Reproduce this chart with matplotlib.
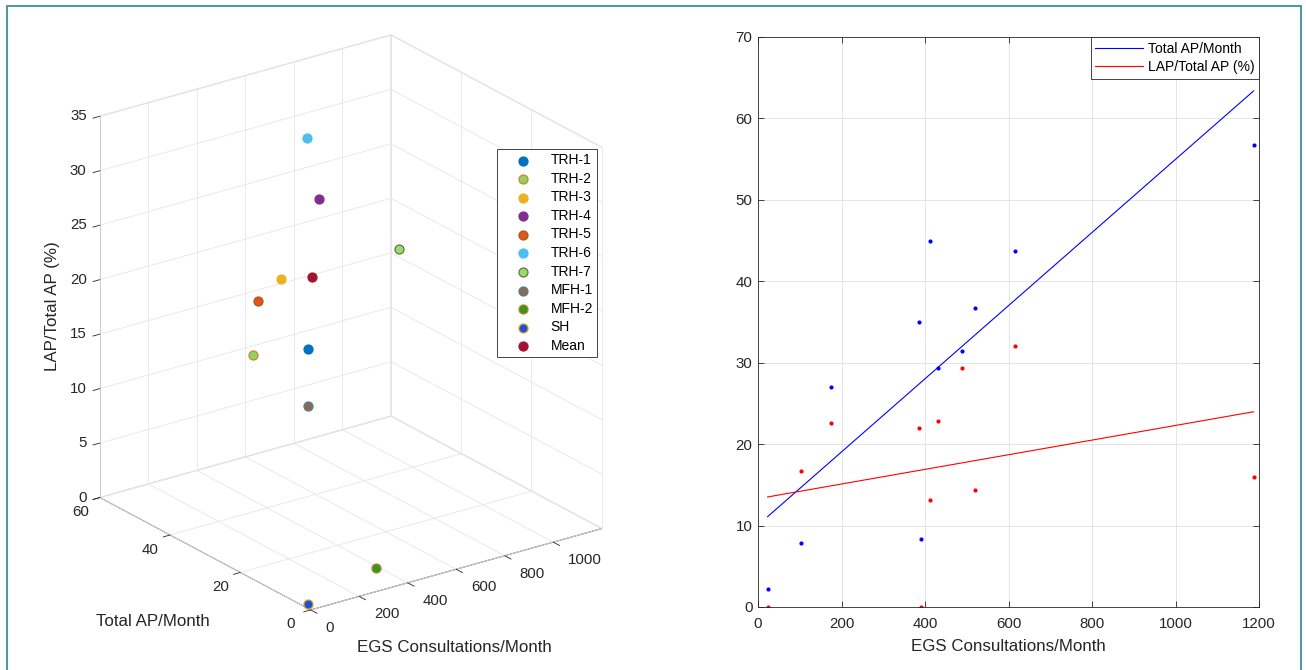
import numpy as np
import matplotlib
matplotlib.use("Agg")
from matplotlib import pyplot as plt
from matplotlib.patches import Rectangle

plt.rcParams["font.family"] = ["Liberation Sans", "DejaVu Sans"]

W, H = 1306, 670

# values
sites = ["TRH-1", "TRH-2", "TRH-3", "TRH-4", "TRH-5", "TRH-6", "TRH-7",
         "MFH-1", "MFH-2", "SH", "Mean"]
egs_per_month = [520, 413, 385, 489, 175, 616, 1187, 103, 390, 23, 430]
total_ap_per_month = [36.7, 44.9, 35.0, 31.4, 27.0, 43.7, 56.7, 7.8, 8.3, 2.26, 29.4]
lap_share = [14.4, 13.1, 22.0, 29.3, 22.6, 32.0, 16.0, 16.7, 0.0, 0.0, 22.8]

face_colors = ["#0072bd", "#8ed45a", "#edb120", "#7e2f8e", "#e0561a", "#4dbeee",
               "#8fe070", "#8c6a4f", "#2e9a1e", "#1f4fd8", "#a2142f"]
edge_colors = ["#0072bd", "#d0803a", "#edb120", "#7e2f8e", "#a8581c", "#4dbeee",
               "#7a6a40", "#4a7ca0", "#c87a2a", "#d8a020", "#a2142f"]

x3_lim = (0, 1200)
y3_lim = (0, 60)
z3_lim = (0, 35)
x3_ticks = [0, 200, 400, 600, 800, 1000]
y3_ticks = [0, 20, 40, 60]
z3_ticks = [0, 5, 10, 15, 20, 25, 30, 35]

dark = "#262626"
grid_col = "#e6e6e6"

fig = plt.figure(figsize=(W / 100, H / 100), dpi=100)

# ---------------- left: 3D scatter (MATLAB view) ----------------
S = 636
cx, cy = 342.2, 331
ax = fig.add_axes([(cx - S / 2) / W, 1 - (cy + S / 2) / H, S / W, S / H],
                  projection="3d", proj_type="ortho", computed_zorder=False)
ax.view_init(elev=22.7, azim=-125.9)
ax.set_box_aspect((1, 1, 1.15), zoom=1.0)

x0, x1 = x3_lim
y0, y1 = y3_lim
z0, z1 = z3_lim
gkw = dict(color=grid_col, lw=0.6, zorder=0.5)
tkw = dict(color=dark, lw=0.6, zorder=1)

# back-plane grid, drawn by hand so MATLAB's look is kept
for t in x3_ticks:
    ax.plot([t, t], [y0, y1], [z0, z0], **gkw)
    ax.plot([t, t], [y1, y1], [z0, z1], **gkw)
for t in y3_ticks:
    ax.plot([x0, x1], [t, t], [z0, z0], **gkw)
    ax.plot([x1, x1], [t, t], [z0, z1], **gkw)
for t in z3_ticks:
    ax.plot([x0, x1], [y1, y1], [t, t], **gkw)
    ax.plot([x1, x1], [y0, y1], [t, t], **gkw)

# tick marks pointing out of the box
for t in x3_ticks:
    ax.plot([t, t], [y0, y0 - 1.8], [z0, z0], **tkw)
for t in y3_ticks:
    ax.plot([x0, x0 - 28], [t, t], [z0, z0], **tkw)
for t in z3_ticks:
    ax.plot([x0, x0 - 28], [y1, y1], [t, t], **tkw)

handles = []
for i, name in enumerate(sites):
    h = ax.scatter(egs_per_month[i], total_ap_per_month[i], lap_share[i],
                   s=42, c=face_colors[i], edgecolors=edge_colors[i],
                   linewidths=0.9, depthshade=False, label=name, zorder=3)
    handles.append(h)

ax.set_xlim(x3_lim)
ax.set_ylim(y3_lim)
ax.set_zlim(z3_lim)
ax.set_xticks([])
ax.set_yticks([])
ax.set_zticks([])
for axis in (ax.xaxis, ax.yaxis, ax.zaxis):
    axis.set_pane_color((1, 1, 1, 1))
    axis.pane.set_edgecolor("#e2e2e2")
    axis.line.set_color(dark)
    axis.line.set_linewidth(0.6)


def label3d(x, y, z, s, **kw):
    # project a 3D point with the axes' own projection and put a 2D text there
    M = ax.get_proj()
    v = M @ np.array([x, y, z, 1.0])
    ax.text2D(v[0] / v[3], v[1] / v[3], s, transform=ax.transData,
              fontsize=10.8, color=dark, **kw)


# tick labels next to the box edges
for t in x3_ticks:
    label3d(t, -4.3, -0.92, str(t), ha="left", va="center")
for t in y3_ticks:
    label3d(-80.7, t, -0.83, str(t), ha="center", va="center")
for t in z3_ticks:
    label3d(-35.3, 61.3, t, str(t), ha="right", va="center")

fig.text(52.7 / W, 1 - 306 / H, "LAP/Total AP (%)", rotation=90,
         ha="center", va="center", fontsize=12.2, color=dark)
fig.text(152.5 / W, 1 - 621 / H, "Total AP/Month",
         ha="center", va="center", fontsize=12.2, color=dark)
fig.text(454.6 / W, 1 - 648 / H, "EGS Consultations/Month",
         ha="center", va="center", fontsize=12.2, color=dark)

leg = fig.legend(handles=handles, loc="upper left",
                 bbox_to_anchor=(497 / W, 1 - 149 / H), borderaxespad=0,
                 fontsize=10, scatterpoints=1, handlelength=3.1,
                 handletextpad=0.45, borderpad=0.3, labelspacing=0.33,
                 fancybox=False, framealpha=1)
leg.get_frame().set_edgecolor(dark)
leg.get_frame().set_linewidth(0.6)

# ---------------- right: 2D scatter with fits ----------------
ax2 = fig.add_axes([758 / W, 1 - 607 / H, (1259 - 758) / W, (607 - 37) / H])
ax2.plot(egs_per_month, total_ap_per_month, ".", color="b", ms=4)
ax2.plot(egs_per_month, lap_share, ".", color="r", ms=4)

x_fit = np.array([min(egs_per_month), max(egs_per_month)])
p_total = np.polyfit(egs_per_month, total_ap_per_month, 1)
p_lap = np.polyfit(egs_per_month, lap_share, 1)
ax2.plot(x_fit, np.polyval(p_total, x_fit), color="b", lw=0.8, label="Total AP/Month")
ax2.plot(x_fit, np.polyval(p_lap, x_fit), color="r", lw=0.8, label="LAP/Total AP (%)")

ax2.set_xlim(0, 1200)
ax2.set_ylim(0, 70)
ax2.set_xticks(np.arange(0, 1201, 200))
ax2.set_yticks(np.arange(0, 71, 10))
ax2.grid(True, color="#e0e0e0", lw=0.6)
ax2.set_axisbelow(True)
ax2.tick_params(direction="in", top=True, right=True, length=4, width=0.6,
                colors=dark, labelsize=10.8)
ax2.tick_params(axis="x", pad=7)
ax2.tick_params(axis="y", pad=4)
for sp in ax2.spines.values():
    sp.set_color(dark)
    sp.set_linewidth(0.6)
ax2.set_xlabel("EGS Consultations/Month", fontsize=12.2, color=dark, labelpad=6)

leg2 = ax2.legend(loc="upper right", borderaxespad=0, fontsize=10,
                  handlelength=3.4, handletextpad=0.35, borderpad=0.35,
                  labelspacing=0.3, fancybox=False, framealpha=1)
leg2.get_frame().set_edgecolor(dark)
leg2.get_frame().set_linewidth(0.6)

# teal frame around the whole figure
fig.add_artist(Rectangle((7 / W, -0.01), (1301 - 7) / W, 1.01 - 6 / H,
                         transform=fig.transFigure, fill=False,
                         edgecolor="#3d8f99", lw=1.3))

fig.savefig("out.png", dpi=100)
